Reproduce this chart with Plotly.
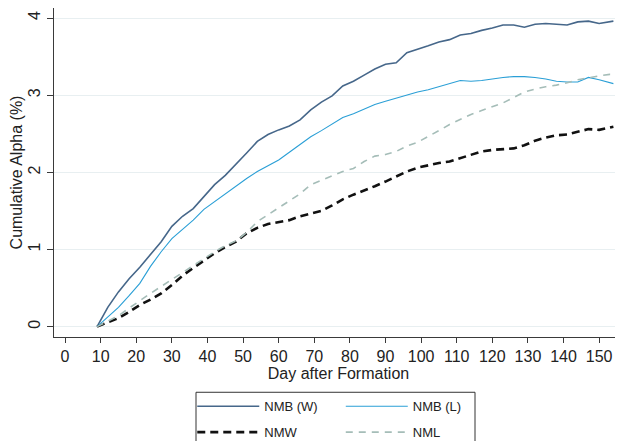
import plotly.graph_objects as go

days = [9, 12, 15, 18, 21, 24, 27, 30, 33, 36, 39, 42, 45, 48, 51, 54, 57, 60, 63, 66,
        69, 72, 75, 78, 81, 84, 87, 90, 93, 96, 99, 102, 105, 108, 111, 114, 117, 120,
        123, 126, 129, 132, 135, 138, 141, 144, 147, 150, 153, 154]

nmb_w = [0, 0.25, 0.45, 0.62, 0.77, 0.93, 1.10, 1.30, 1.43, 1.53, 1.68, 1.84, 1.96, 2.10,
         2.25, 2.40, 2.49, 2.55, 2.60, 2.68, 2.81, 2.91, 2.99, 3.12, 3.18, 3.26, 3.34, 3.40,
         3.42, 3.55, 3.59, 3.64, 3.69, 3.72, 3.78, 3.80, 3.84, 3.87, 3.91, 3.91, 3.88, 3.92,
         3.93, 3.92, 3.91, 3.95, 3.96, 3.93, 3.95, 3.96]

nmb_l = [0, 0.12, 0.25, 0.40, 0.56, 0.78, 0.97, 1.14, 1.26, 1.38, 1.52, 1.62, 1.72, 1.83,
         1.92, 2.01, 2.09, 2.16, 2.26, 2.36, 2.46, 2.54, 2.63, 2.71, 2.76, 2.82, 2.88, 2.92,
         2.96, 3.00, 3.04, 3.07, 3.11, 3.15, 3.19, 3.18, 3.19, 3.21, 3.23, 3.24, 3.24, 3.23,
         3.21, 3.18, 3.17, 3.17, 3.23, 3.20, 3.16, 3.15]

nmw = [0, 0.06, 0.11, 0.19, 0.28, 0.35, 0.43, 0.54, 0.66, 0.76, 0.86, 0.95, 1.03, 1.10,
       1.21, 1.28, 1.33, 1.36, 1.38, 1.43, 1.46, 1.50, 1.57, 1.65, 1.71, 1.76, 1.82, 1.88,
       1.95, 2.01, 2.06, 2.09, 2.12, 2.14, 2.18, 2.22, 2.27, 2.29, 2.30, 2.31, 2.35, 2.41,
       2.45, 2.48, 2.49, 2.53, 2.56, 2.55, 2.58, 2.59]

nml = [0, 0.07, 0.14, 0.24, 0.34, 0.43, 0.52, 0.61, 0.71, 0.80, 0.88, 0.97, 1.05, 1.11,
       1.22, 1.36, 1.45, 1.54, 1.62, 1.72, 1.84, 1.90, 1.95, 2.01, 2.05, 2.14, 2.21, 2.23,
       2.27, 2.34, 2.39, 2.46, 2.54, 2.62, 2.69, 2.75, 2.80, 2.85, 2.90, 2.97, 3.04, 3.08,
       3.11, 3.13, 3.16, 3.20, 3.23, 3.25, 3.27, 3.27]

x_ticks = list(range(0, 151, 10))
y_ticks = [0, 1, 2, 3, 4]

FONT = "Arial, Liberation Sans, sans-serif"

fig = go.Figure()
fig.add_trace(go.Scatter(x=days, y=nmb_w, mode="lines", name="NMB (W)",
                         line=dict(color="#46678a", width=1.6), legend="legend",
                         legendgroup="a"))
fig.add_trace(go.Scatter(x=days, y=nmw, mode="lines", name="NMW",
                         line=dict(color="#111111", width=2.6, dash="8px,5px"),
                         legend="legend", legendgroup="b"))
fig.add_trace(go.Scatter(x=days, y=nmb_l, mode="lines", name="NMB (L)",
                         line=dict(color="#2a9fd6", width=1.1), legend="legend2",
                         legendgroup="c"))
fig.add_trace(go.Scatter(x=days, y=nml, mode="lines", name="NML",
                         line=dict(color="#a5bdb8", width=1.6, dash="7px,6px"),
                         legend="legend2", legendgroup="d"))

axis_common = dict(showline=True, linecolor="#3a3a3a", linewidth=1.3, ticks="outside",
                   tickcolor="#3a3a3a", tickfont=dict(size=16, color="#222", family=FONT),
                   zeroline=False, mirror=False, automargin=False)

fig.update_xaxes(range=[-3.1, 156.7], tickvals=x_ticks, ticklen=5, showgrid=False,
                 title=dict(text="Day after Formation", font=dict(size=16, color="#222", family=FONT),
                            standoff=0),
                 **axis_common)
fig.update_yaxes(range=[-0.135, 4.13], tickvals=y_ticks, ticklen=6, tickangle=-90,
                 showgrid=True, gridcolor="#e8eff1", gridwidth=1,
                 title=dict(text="Cumulative Alpha (%)", font=dict(size=16, color="#222", family=FONT),
                            standoff=6),
                 **axis_common)

legend_common = dict(font=dict(size=13, color="#222", family=FONT), bgcolor="rgba(0,0,0,0)",
                     borderwidth=0, orientation="v", xanchor="left", yanchor="top",
                     itemwidth=62, tracegroupgap=6)

fig.update_layout(
    width=615, height=433,
    margin=dict(l=46, r=0, t=0, b=104, autoexpand=False),
    paper_bgcolor="white", plot_bgcolor="white",
    font=dict(family=FONT),
    showlegend=True,
    legend=dict(x=0.243, y=-0.165, **legend_common),
    legend2=dict(x=0.504, y=-0.165, **legend_common),
    shapes=[dict(type="rect", xref="paper", yref="paper", x0=(196 - 54) / 569, x1=(475 - 54) / 569,
                 y0=-0.36, y1=-0.168, line=dict(color="#333", width=1), fillcolor="rgba(0,0,0,0)")],
)

fig.write_html("out.html")
